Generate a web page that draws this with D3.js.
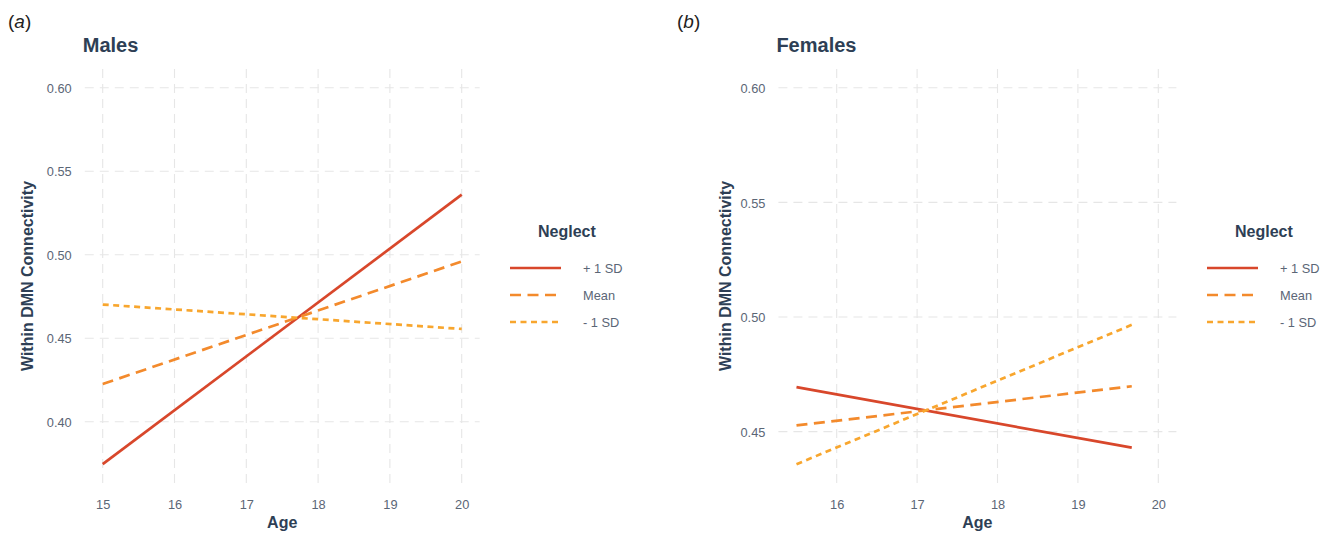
<!DOCTYPE html>
<html>
<head>
<meta charset="utf-8">
<script src="https://cdn.jsdelivr.net/npm/d3@7"></script>
<style>
  html, body { margin: 0; padding: 0; background: #ffffff; }
  svg { display: block; font-family: "Liberation Sans", Arial, Helvetica, sans-serif; }
</style>
</head>
<body>
<svg id="chart" width="1330" height="534"></svg>
<script>
// Simple-slope estimates of within-DMN connectivity by age, at three neglect levels
const seriesNames = ["+ 1 SD", "Mean", "- 1 SD"];

const malesAge = [15, 20];
const malesPlus1 = [0.3746, 0.536];
const malesMean = [0.4226, 0.496];
const malesMinus1 = [0.4702, 0.4556];

const femalesAge = [15.5, 19.67];
const femalesPlus1 = [0.4694, 0.443];
const femalesMean = [0.4527, 0.4698];
const femalesMinus1 = [0.4358, 0.4966];

const malesXTicks = [15, 16, 17, 18, 19, 20];
const femalesXTicks = [16, 17, 18, 19, 20];
const malesYTicks = [0.40, 0.45, 0.50, 0.55, 0.60];
const femalesYTicks = [0.45, 0.50, 0.55, 0.60];

// axis limits before a 5% expansion on each side
const malesXLim = [15, 20], malesYLim = [0.3746, 0.60];
const femalesXLim = [15.5, 20], femalesYLim = [0.4358, 0.60];

const colors = ["#d8472b", "#f38a2c", "#f8a62e"];
const dashes = [null, "11,6.5", "6,4.5"];
const titleColor = "#2e3f55";
const tickColor = "#5b6676";

const svg = d3.select("#chart");

function expand(lim) {
  const d = (lim[1] - lim[0]) * 0.05;
  return [lim[0] - d, lim[1] + d];
}

function panel(opts) {
  const g = svg.append("g");
  const x = d3.scaleLinear().domain(expand(opts.xLim)).range([opts.left, opts.right]);
  const y = d3.scaleLinear().domain(expand(opts.yLim)).range([opts.bottom, opts.top]);

  // dashed major gridlines
  const grid = g.append("g")
    .attr("stroke", "#e6e6e6")
    .attr("stroke-width", 1.1)
    .attr("stroke-dasharray", "9,6");
  grid.selectAll("line.h").data(opts.yTicks).join("line")
    .attr("class", "h")
    .attr("x1", opts.left).attr("x2", opts.right)
    .attr("y1", d => y(d)).attr("y2", d => y(d));
  grid.selectAll("line.v").data(opts.xTicks).join("line")
    .attr("class", "v")
    .attr("y1", opts.top).attr("y2", opts.bottom)
    .attr("x1", d => x(d)).attr("x2", d => x(d));

  // axes: labels only, no domain line or tick marks
  const xAxis = d3.axisBottom(x).tickValues(opts.xTicks).tickFormat(d3.format("d")).tickSize(0).tickPadding(0);
  const gx = g.append("g").attr("transform", `translate(0,${opts.bottom + 17})`).call(xAxis);
  const yAxis = d3.axisLeft(y).tickValues(opts.yTicks).tickFormat(d3.format(".2f")).tickSize(0).tickPadding(0);
  const gy = g.append("g").attr("transform", `translate(${opts.left - 13},0)`).call(yAxis);
  [gx, gy].forEach(a => {
    a.select(".domain").remove();
    a.selectAll("text").attr("fill", tickColor).style("font-size", "12.8px")
      .style("font-family", "'Liberation Sans', Arial, sans-serif");
  });
  gy.selectAll("text").attr("dy", "0.36em");
  gx.selectAll("text").attr("dy", "0.71em");

  // simple-slope lines
  const line = d3.line().x(d => x(d[0])).y(d => y(d[1]));
  opts.series.forEach((vals, i) => {
    g.append("path")
      .datum(opts.ages.map((a, k) => [a, vals[k]]))
      .attr("d", line)
      .attr("fill", "none")
      .attr("stroke", colors[i])
      .attr("stroke-width", 2.7)
      .attr("stroke-dasharray", dashes[i]);
  });

  // titles
  g.append("text").attr("x", opts.tagX).attr("y", 28)
    .attr("fill", "#222").style("font-size", "19px")
    .html('(<tspan font-style="italic">' + opts.tag + '</tspan>)');
  g.append("text").attr("x", opts.left - 2).attr("y", 52)
    .attr("fill", titleColor).style("font-size", "20px").style("font-weight", "bold")
    .text(opts.title);
  g.append("text").attr("x", (opts.left + opts.right) / 2).attr("y", 528)
    .attr("text-anchor", "middle")
    .attr("fill", titleColor).style("font-size", "16px").style("font-weight", "bold")
    .text("Age");
  g.append("text")
    .attr("transform", `translate(${opts.yTitleX},${(opts.top + opts.bottom) / 2}) rotate(-90)`)
    .attr("text-anchor", "middle")
    .attr("fill", titleColor).style("font-size", "16px").style("font-weight", "bold")
    .text("Within DMN Connectivity");

  // legend
  const lg = g.append("g").attr("transform", `translate(${opts.legendX},0)`);
  lg.append("text").attr("x", 28).attr("y", 237)
    .attr("fill", titleColor).style("font-size", "16px").style("font-weight", "bold")
    .text("Neglect");
  const rows = [268, 295, 322];
  seriesNames.forEach((name, i) => {
    lg.append("line")
      .attr("x1", 0).attr("x2", 51).attr("y1", rows[i]).attr("y2", rows[i])
      .attr("stroke", colors[i]).attr("stroke-width", 2.7)
      .attr("stroke-dasharray", dashes[i]);
    lg.append("text").attr("x", 73).attr("y", rows[i]).attr("dy", "0.36em")
      .attr("fill", tickColor).style("font-size", "12.8px")
      .text(name);
  });
}

panel({
  left: 84.75, right: 479.65, top: 69, bottom: 483,
  xLim: malesXLim, yLim: malesYLim,
  xTicks: malesXTicks, yTicks: malesYTicks,
  ages: malesAge, series: [malesPlus1, malesMean, malesMinus1],
  title: "Males", tag: "a", tagX: 8, yTitleX: 33, legendX: 510
});

panel({
  left: 778.4, right: 1176.4, top: 69, bottom: 483,
  xLim: femalesXLim, yLim: femalesYLim,
  xTicks: femalesXTicks, yTicks: femalesYTicks,
  ages: femalesAge, series: [femalesPlus1, femalesMean, femalesMinus1],
  title: "Females", tag: "b", tagX: 677, yTitleX: 731, legendX: 1207
});
</script>
</body>
</html>
